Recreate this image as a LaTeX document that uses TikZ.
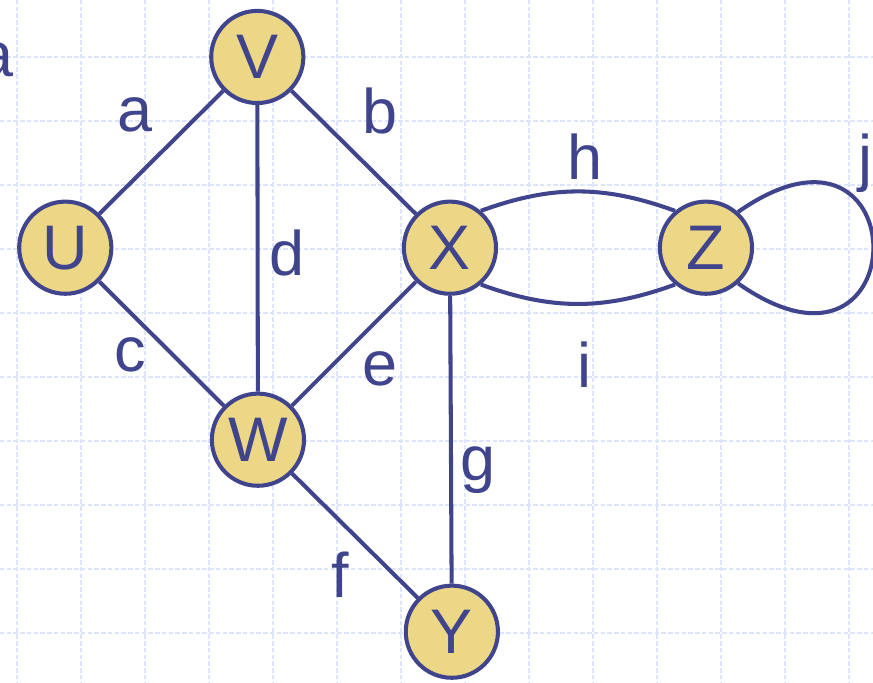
\documentclass[tikz,border=0pt]{standalone}
\usepackage{fontspec}
\setmainfont{Liberation Sans}
\usepackage{xcolor}
\usepackage{tikz}

\definecolor{edgeblue}{RGB}{64,68,140}
\definecolor{vertfill}{RGB}{235,215,133}
\definecolor{gridblue}{RGB}{222,228,251}

\begin{document}
\begin{tikzpicture}[
    vert/.style={circle, draw=edgeblue, fill=vertfill, line width=1.8pt,
      minimum size=1.44cm, inner sep=0pt, text=edgeblue,
      font=\fontsize{28}{32}\selectfont},
    edge/.style={draw=edgeblue, line width=1.8pt},
    lbl/.style={anchor=base, inner sep=0pt, text=edgeblue,
      font=\fontsize{28}{32}\selectfont},
    gridline/.style={draw=gridblue, line width=0.7pt, dash pattern=on 2pt off 1pt}]
          \useasboundingbox (0,0) rectangle (13.64,-10.656);

          % background grid
          \foreach \x in {0,...,13} \draw[gridline] (0.266+\x,0) -- (0.266+\x,-10.656);
          \foreach \y in {0,...,9} \draw[gridline] (0,-0.89-\y) -- (13.64,-0.89-\y);

          \node[vert](U) at ( 1.02,-3.87) {U};
          \node[vert](V) at ( 4.02,-0.89) {V};
          \node[vert](X) at ( 7.03,-3.87) {X};
          \node[vert](W) at ( 4.03,-6.87) {W};
          \node[vert](Y) at ( 7.06,-9.87) {Y};
          \node[vert](Z) at (11.03,-3.87) {Z};

          \draw[edge] (U) -- (V) -- (X) -- (W) -- (U);
          \draw[edge] (V) -- (W) -- (Y) -- (X);
          \draw[edge] (X.50) to[out=20, in=160] (Z.130);
          \draw[edge] (X.-50) to[out=-20, in=-160] (Z.-130);
          \draw[edge] (Z.48) .. controls +(35:3.44) and +(-35:3.44) .. (Z.-48);

          \node[lbl](la0) at (-0.06,-1.20) {a};
          \node[lbl](la) at ( 2.11,-2.06) {a};
          \node[lbl](lb) at ( 5.94,-2.08) {b};
          \node[lbl](lc) at ( 2.03,-5.81) {c};
          \node[lbl](ld) at ( 4.48,-4.30) {d};
          \node[lbl](le) at ( 5.94,-6.02) {e};
          \node[lbl](lf) at ( 5.31,-9.34) {f};
          \node[lbl](lg) at ( 7.47,-7.50) {g};
          \node[lbl](lh) at ( 9.14,-2.81) {h};
          \node[lbl](li) at ( 9.14,-6.06) {i};
          \node[lbl](lj) at (13.52,-2.81) {j};
        \end{tikzpicture}
\end{document}
